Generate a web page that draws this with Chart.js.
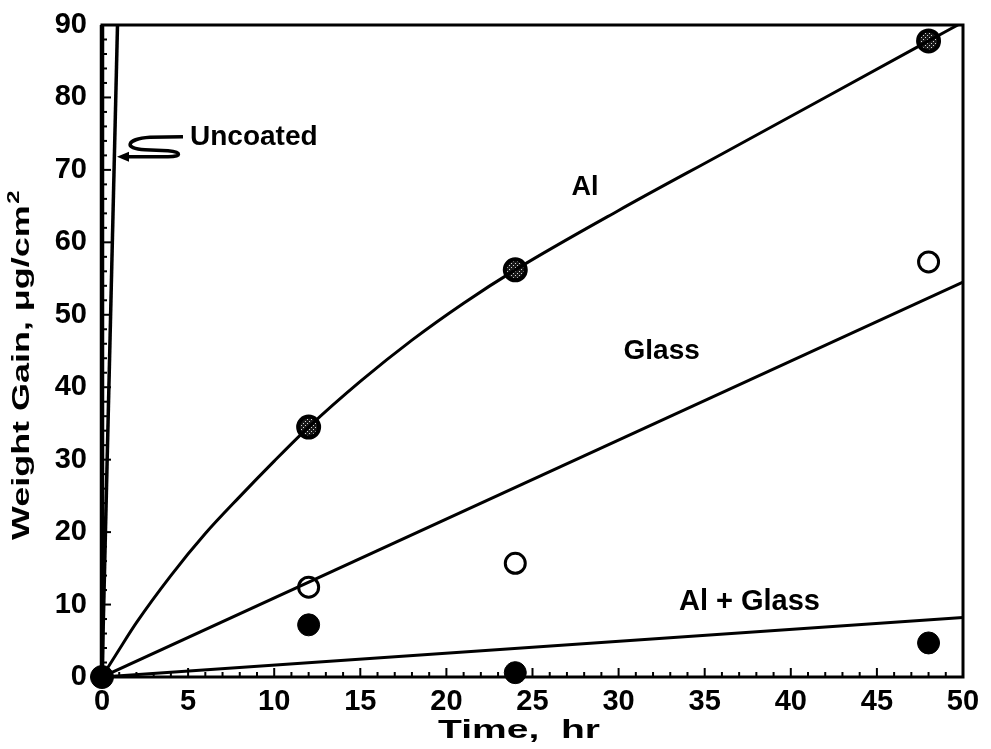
<!DOCTYPE html>
<html>
<head>
<meta charset="utf-8">
<script src="https://cdn.jsdelivr.net/npm/chart.js@4"></script>
<style>
  html, body { margin: 0; padding: 0; background: #fff; }
  #caja { width: 991px; height: 749px; }
</style>
</head>
<body>
<div id="caja"><canvas id="graficoGanancia"></canvas></div>
<script>
/* ── DATOS ── valores */
var tiempoAl = [0, 1, 2, 4, 6, 8, 10, 12, 15, 18, 21, 24, 30, 36, 42, 48, 50];
var curvaAl = [0, 3.8, 7.5, 14, 19.8, 24.9, 29.8, 34.5, 40.8, 46.5, 51.6, 56.2, 64.4, 72.2, 80, 87.8, 90.4];

var tiempoRecta = [0, 50];
var rectaVidrio = [0, 54.5];
var rectaAlVidrio = [0, 8.2];

var tiempoSinRecubrir = [0, 0.9];
var rectaSinRecubrir = [0, 90];

var tiempoMedido = [12, 24, 48];
var puntosAl = [34.5, 56.2, 87.8];
var puntosVidrio = [12.4, 15.7, 57.3];
var puntosAlVidrio = [7.2, 0.6, 4.7];

var ticksX = [0, 5, 10, 15, 20, 25, 30, 35, 40, 45, 50];
var ticksY = [0, 10, 20, 30, 40, 50, 60, 70, 80, 90];

/* Etiquetas de las curvas: texto y posición en unidades de los ejes */
var etiquetas = [
    { texto: 'Al', x: 28.05, y: 67.5, tam: 27 },
    { texto: 'Glass', x: 32.5, y: 44.9, tam: 28 },
    { texto: 'Al + Glass', x: 37.6, y: 10.35, tam: 29 }
];

var FUENTE = "'Liberation Sans', Arial, sans-serif";

/* Une dos arrays en puntos {x, y} */
function unir(xs, ys) {
    var res = [];
    for (var i = 0; i < xs.length; i++) res.push({ x: xs[i], y: ys[i] });
    return res;
}

/* Relleno punteado para los marcadores de Al */
function crearPunteado() {
    var c = document.createElement('canvas');
    c.width = 4; c.height = 4;
    var g = c.getContext('2d');
    g.fillStyle = '#1a1a1a';
    g.fillRect(0, 0, 4, 4);
    g.fillStyle = '#d8d8d8';
    g.fillRect(1, 1, 1, 1);
    g.fillRect(3, 3, 1, 1);
    return g.createPattern(c, 'repeat');
}

/* ── PLUGIN: marco, marcas interiores, títulos y anotaciones ── */
var pluginMarco = {
    id: 'marco',
    beforeDatasetsDraw: function (chart) {
        var ctx = chart.ctx, a = chart.chartArea;
        var sx = chart.scales.x, sy = chart.scales.y;
        ctx.save();
        ctx.strokeStyle = '#000';
        /* marcas del eje X hacia dentro */
        ctx.lineWidth = 2;
        for (var t = 0; t <= 50; t++) {
            var px = sx.getPixelForValue(t);
            var largo = (t % 5 === 0) ? 9 : 5;
            ctx.beginPath();
            ctx.moveTo(px, a.bottom);
            ctx.lineTo(px, a.bottom - largo);
            ctx.stroke();
        }
        /* marcas del eje Y hacia dentro */
        for (var v = 0; v <= 90; v += 2) {
            var py = sy.getPixelForValue(v);
            var l = (v % 10 === 0) ? 9 : 5;
            ctx.beginPath();
            ctx.moveTo(a.left, py);
            ctx.lineTo(a.left + l, py);
            ctx.stroke();
        }
        /* marco */
        ctx.lineWidth = 3;
        ctx.strokeRect(a.left, a.top, a.right - a.left, a.bottom - a.top);
        ctx.lineWidth = 4.5;
        ctx.beginPath();
        ctx.moveTo(a.left, a.top);
        ctx.lineTo(a.left, a.bottom);
        ctx.stroke();
        ctx.restore();
    },
    afterDraw: function (chart) {
        var ctx = chart.ctx;
        var sx = chart.scales.x, sy = chart.scales.y;
        ctx.save();
        ctx.fillStyle = '#000';
        ctx.strokeStyle = '#000';

        /* etiquetas de las curvas */
        ctx.textAlign = 'center';
        ctx.textBaseline = 'middle';
        etiquetas.forEach(function (e) {
            ctx.font = 'bold ' + e.tam + 'px ' + FUENTE;
            ctx.fillText(e.texto, sx.getPixelForValue(e.x), sy.getPixelForValue(e.y));
        });

        /* "Uncoated" con flecha en S */
        ctx.font = 'bold 28px ' + FUENTE;
        ctx.textAlign = 'left';
        ctx.fillText('Uncoated', sx.getPixelForValue(5.11), sy.getPixelForValue(74.5));
        var tx = sx.getPixelForValue(0.87), ty = sy.getPixelForValue(71.8);
        ctx.lineWidth = 3.5;
        ctx.beginPath();
        ctx.moveTo(tx + 66, ty - 20);
        ctx.lineTo(tx + 33, ty - 19.5);
        ctx.bezierCurveTo(tx + 9, ty - 18, tx + 6, ty - 8, tx + 28, ty - 7);
        ctx.lineTo(tx + 51, ty - 6);
        ctx.bezierCurveTo(tx + 65, ty - 5, tx + 65, ty, tx + 51, ty);
        ctx.lineTo(tx + 10, ty);
        ctx.stroke();
        ctx.beginPath();
        ctx.moveTo(tx, ty);
        ctx.lineTo(tx + 12, ty - 5);
        ctx.lineTo(tx + 12, ty + 5);
        ctx.closePath();
        ctx.fill();

        /* título eje X, letra ensanchada como en el original */
        ctx.font = 'bold 25px ' + FUENTE;
        ctx.textAlign = 'left';
        ctx.textBaseline = 'alphabetic';
        var tituloX = 'Time,  hr';
        var anchoX = ctx.measureText(tituloX).width;
        var escX = 162 / anchoX;
        ctx.save();
        ctx.translate(519 - 81, 738);
        ctx.scale(escX, 1);
        ctx.fillText(tituloX, 0, 0);
        ctx.restore();

        /* título eje Y, girado, con superíndice */
        var tituloY = 'Weight Gain, μg/cm';
        ctx.font = 'bold 24px ' + FUENTE;
        var anchoY = ctx.measureText(tituloY).width;
        ctx.font = 'bold 16px ' + FUENTE;
        var anchoSup = ctx.measureText('2').width;
        var escY = 348 / (anchoY + anchoSup);
        ctx.save();
        ctx.translate(29, 540);
        ctx.rotate(-Math.PI / 2);
        ctx.scale(escY, 1);
        ctx.font = 'bold 24px ' + FUENTE;
        ctx.fillText(tituloY, 0, 0);
        ctx.font = 'bold 16px ' + FUENTE;
        ctx.fillText('2', anchoY + 1, -10);
        ctx.restore();

        ctx.restore();
    }
};

function crearGrafico() {
    var canvas = document.getElementById('graficoGanancia');
    var punteado = crearPunteado();
    new Chart(canvas, {
        type: 'scatter',
        data: {
            datasets: [
                {   /* Sin recubrir */
                    data: unir(tiempoSinRecubrir, rectaSinRecubrir),
                    showLine: true, borderColor: '#000', borderWidth: 3.5, pointRadius: 0
                },
                {   /* Al */
                    data: unir(tiempoAl, curvaAl),
                    showLine: true, borderColor: '#000', borderWidth: 3, pointRadius: 0,
                    cubicInterpolationMode: 'monotone'
                },
                {   /* Glass */
                    data: unir(tiempoRecta, rectaVidrio),
                    showLine: true, borderColor: '#000', borderWidth: 3, pointRadius: 0
                },
                {   /* Al + Glass */
                    data: unir(tiempoRecta, rectaAlVidrio),
                    showLine: true, borderColor: '#000', borderWidth: 3, pointRadius: 0
                },
                {   /* puntos Al */
                    data: unir(tiempoMedido, puntosAl),
                    pointRadius: 10.5, pointBackgroundColor: punteado,
                    pointBorderColor: '#000', pointBorderWidth: 4, clip: false
                },
                {   /* puntos Glass (abiertos) */
                    data: unir(tiempoMedido, puntosVidrio),
                    pointRadius: 10, pointBackgroundColor: '#fff',
                    pointBorderColor: '#000', pointBorderWidth: 3, clip: false
                },
                {   /* puntos Al + Glass (rellenos) */
                    data: unir(tiempoMedido, puntosAlVidrio),
                    pointRadius: 11, pointBackgroundColor: '#000',
                    pointBorderColor: '#000', pointBorderWidth: 1, clip: false
                },
                {   /* origen */
                    data: [{ x: 0, y: 0 }],
                    pointRadius: 11.5, pointBackgroundColor: '#000',
                    pointBorderColor: '#000', pointBorderWidth: 1, clip: false
                }
            ]
        },
        options: {
            responsive: true,
            maintainAspectRatio: false,
            animation: false,
            layout: { padding: { left: 0, top: 25, right: 28, bottom: 0 } },
            plugins: {
                legend: { display: false },
                tooltip: { enabled: false }
            },
            scales: {
                x: {
                    type: 'linear', min: 0, max: 50,
                    grid: { display: false, drawTicks: false },
                    border: { display: false },
                    afterBuildTicks: function (s) { s.ticks = ticksX.map(function (v) { return { value: v }; }); },
                    afterFit: function (s) {
                        s.height = 72;
                        s.paddingLeft = 0; s.paddingRight = 0;
                    },
                    ticks: {
                        padding: 8, color: '#000', maxRotation: 0,
                        font: { family: FUENTE, size: 29, weight: 'bold' }
                    }
                },
                y: {
                    type: 'linear', min: 0, max: 90,
                    grid: { display: false, drawTicks: false },
                    border: { display: false },
                    afterBuildTicks: function (s) { s.ticks = ticksY.map(function (v) { return { value: v }; }); },
                    afterFit: function (s) {
                        s.width = 102;
                        s.paddingTop = 0; s.paddingBottom = 0;
                    },
                    ticks: {
                        padding: 15, color: '#000',
                        font: { family: FUENTE, size: 29, weight: 'bold' }
                    }
                }
            }
        },
        plugins: [pluginMarco]
    });
}

crearGrafico();
</script>
</body>
</html>
